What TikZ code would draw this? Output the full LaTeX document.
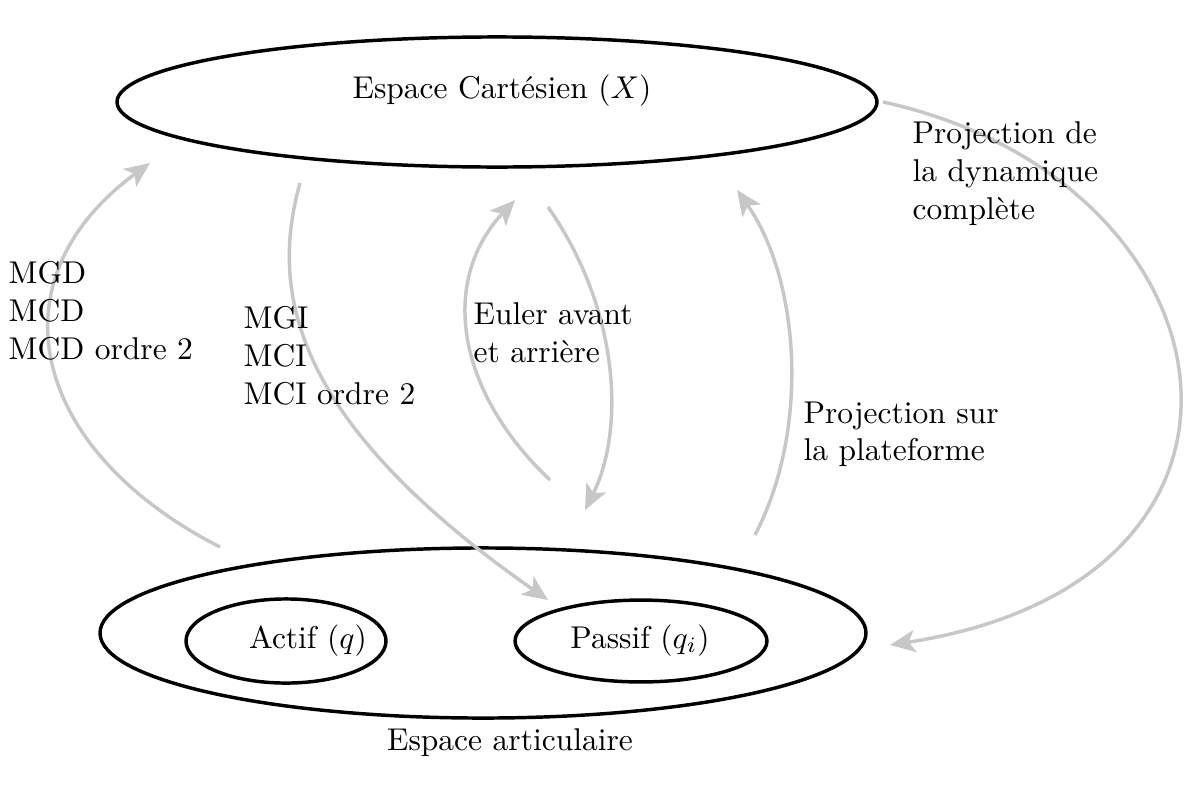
\documentclass[tikz,border=0pt]{standalone}
\usetikzlibrary{shapes.geometric,arrows.meta}
\begin{document}
\begin{tikzpicture}[x=0.3175pt,y=-0.3175pt,
  space/.style={ellipse, draw=black, line width=1.1pt, inner sep=0pt},
  link/.style={draw=black!22, line width=1.1pt, -{Stealth[length=8pt,width=7pt,inset=2pt]}},
  lbl/.style={anchor=north west, align=left, inner sep=0pt}]
\useasboundingbox (0,0) rectangle (1189,785);
% ellipses
\node[space, minimum width=241.3pt, minimum height=41.3pt] (cart) at (497,102) {};
\node[anchor=base, inner sep=0pt] (cartlbl) at (502,98) {Espace Cartésien $(X)$};
\node[space, minimum width=243.2pt, minimum height=54pt] (art) at (483,633) {};
\node[anchor=base, inner sep=0pt] (artlbl) at (510,750) {Espace articulaire};
\node[space, minimum width=63.5pt, minimum height=26.7pt] (act) at (286,641) {};
\node[anchor=base, inner sep=0pt] (actlbl) at (308,648) {Actif $(q)$};
\node[space, minimum width=80pt, minimum height=26pt] (pas) at (641,641) {};
\node[anchor=base, inner sep=0pt] (paslbl) at (640,648) {Passif $(q_i)$};
% connector ends
\coordinate (a1) at (220,547);  \coordinate (b1) at (150,163);
\coordinate (a2) at (300,183);  \coordinate (b2) at (548,600);
\coordinate (a3) at (550,480);  \coordinate (b3) at (515,200);
\coordinate (a4) at (548,207);  \coordinate (b4) at (585,510);
\coordinate (a5) at (755,535);  \coordinate (b5) at (737,190);
\coordinate (a6) at (883,102);  \coordinate (b6) at (890,645);
% connectors
\draw[link] (a1) .. controls (30,450) and (-10,280) .. (b1);
\draw[link] (a2) .. controls (270,290) and (290,420) .. (b2);
\draw[link] (a3) .. controls (455,390) and (440,280) .. (b3);
\draw[link] (a4) .. controls (620,310) and (625,430) .. (b4);
\draw[link] (a5) .. controls (810,430) and (800,280) .. (b5);
\draw[link] (a6) .. controls (1240,180) and (1310,580) .. (b6);
% labels
\node[lbl] (l1) at (8,261) {MGD\\MCD\\MCD ordre 2};
\node[lbl] (l2) at (243,306) {MGI\\MCI\\MCI ordre 2};
\node[lbl] (l3) at (473,302) {Euler avant\\et arrière};
\node[lbl] (l4) at (803,401) {Projection sur\\la plateforme};
\node[lbl] (l5) at (912,121) {Projection de\\la dynamique\\complète};
\end{tikzpicture}
\end{document}
